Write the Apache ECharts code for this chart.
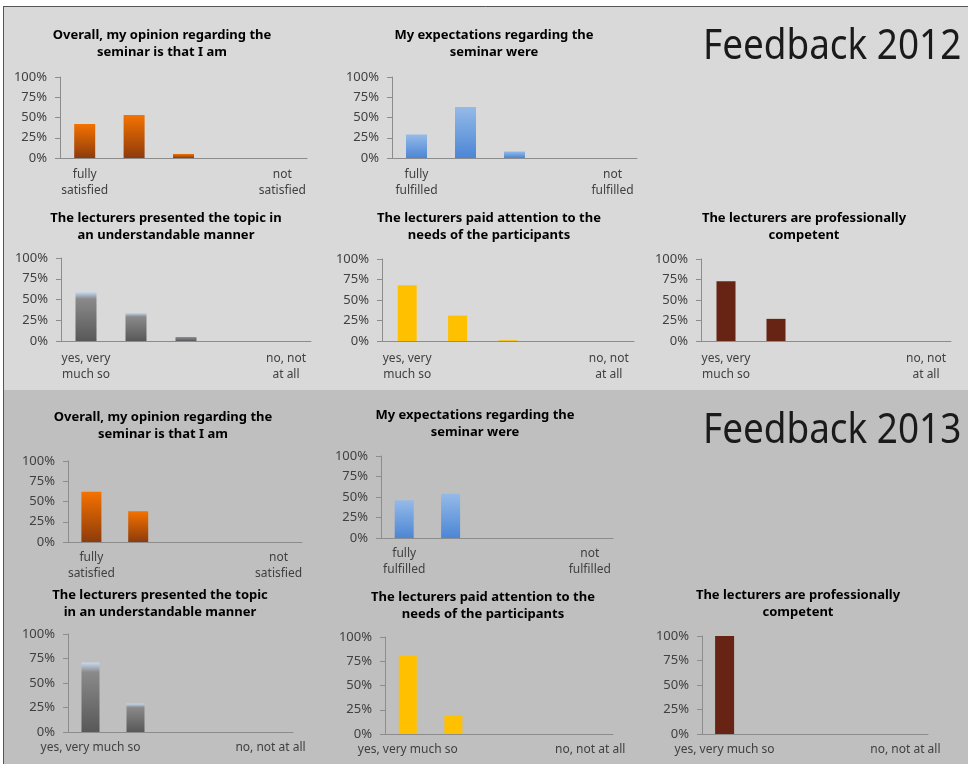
<!DOCTYPE html>
<html><head><meta charset="utf-8">
<script src="https://cdn.jsdelivr.net/npm/echarts/dist/echarts.min.js"></script>
<style>html,body{margin:0;padding:0;background:#fff}#c{width:968px;height:764px}</style>
</head><body><div id="c"></div>
<script>
// ---- data ----
const catsSatisfied = ["fully\nsatisfied", "", "", "", "not\nsatisfied"];
const catsFulfilled = ["fully\nfulfilled", "", "", "", "not\nfulfilled"];
const catsYesNo2 = ["yes, very\nmuch so", "", "", "", "no, not\nat all"];
const catsYesNo1 = ["yes, very much so", "", "", "", "no, not at all"];
const yTickStep = 25;

const overall2012 = [42, 53, 5, 0, 0];
const expect2012 = [29, 63, 8, 0, 0];
const presented2012 = [59, 34, 5, 0, 0];
const attention2012 = [68, 31, 1, 0, 0];
const competent2012 = [73, 27, 0, 0, 0];

const overall2013 = [62, 38, 0, 0, 0];
const expect2013 = [46, 54, 0, 0, 0];
const presented2013 = [71, 29, 0, 0, 0];
const attention2013 = [81, 19, 0, 0, 0];
const competent2013 = [100, 0, 0, 0, 0];

const tOverall = "Overall, my opinion regarding the\nseminar is that I am";
const tExpect = "My expectations regarding the\nseminar were";
const tPresented2012 = "The lecturers presented the topic in\nan understandable manner";
const tPresented2013 = "The lecturers presented the topic\nin an understandable manner";
const tAttention = "The lecturers paid attention to the\nneeds of the participants";
const tCompetent = "The lecturers are professionally\ncompetent";
const headline2012 = "Feedback 2012";
const headline2013 = "Feedback 2013";

// ---- styles ----
const grad = (a, b, c) => ({type: 'linear', x: 0, y: 0, x2: 0, y2: 1,
  colorStops: c ? [{offset: 0, color: a}, {offset: 0.14, color: b}, {offset: 1, color: c}]
                : [{offset: 0, color: a}, {offset: 1, color: b}]});
const cOrange = grad('#f47200', '#8e3b0c');
const cBlue = grad('#95bae8', '#4c86d5');
const cGray = grad('#c9daf0', '#8a8a8a', '#585858');
const cYellow = '#ffc000';
const cBrown = '#672314';

const panels = [
  {title: tOverall, cats: catsSatisfied, vals: overall2012, color: cOrange, g: [60, 77, 247, 81], tx: 162, ty: 35, bw: 21, lm: 9},
  {title: tExpect, cats: catsFulfilled, vals: expect2012, color: cBlue, g: [392, 77, 245, 81], tx: 494, ty: 35, bw: 21, lm: 9},
  {title: tPresented2012, cats: catsYesNo2, vals: presented2012, color: cGray, g: [61, 258, 250, 83], tx: 166, ty: 218, bw: 21, lm: 10},
  {title: tAttention, cats: catsYesNo2, vals: attention2012, color: cYellow, g: [382, 259, 252, 82], tx: 489, ty: 218, bw: 19, lm: 10},
  {title: tCompetent, cats: catsYesNo2, vals: competent2012, color: cBrown, g: [701, 259, 250, 82], tx: 804, ty: 218, bw: 19, lm: 10},
  {title: tOverall, cats: catsSatisfied, vals: overall2013, color: cOrange, g: [68, 461, 234, 81], tx: 163, ty: 417, bw: 20, lm: 8},
  {title: tExpect, cats: catsFulfilled, vals: expect2013, color: cBlue, g: [381, 456, 232, 82], tx: 475, ty: 415, bw: 19, lm: 8},
  {title: tPresented2013, cats: catsYesNo1, vals: presented2013, color: cGray, g: [68, 634, 225, 98], tx: 160, ty: 595, bw: 18, lm: 8},
  {title: tAttention, cats: catsYesNo1, vals: attention2013, color: cYellow, g: [385, 637, 228, 97], tx: 483, ty: 597, bw: 18, lm: 8},
  {title: tCompetent, cats: catsYesNo1, vals: competent2013, color: cBrown, g: [702, 636, 226, 98], tx: 798, ty: 595, bw: 19, lm: 8}
];

const FONT = 'Noto Sans';
const axisGray = '#8c8c8c';
const labelColor = '#404040';

const headline = (txt, x, y) => ({type: 'text', x: x, y: y, scaleX: 0.9, z: 10,
  style: {text: txt, x: 0, y: 0, fontFamily: FONT, fontSize: 41, fill: '#1a1a1a', verticalAlign: 'top', align: 'left'}});

const option = {
  animation: false,
  backgroundColor: '#ffffff',
  graphic: [
    {type: 'rect', z: -10, shape: {x: 3, y: 6, width: 965, height: 384}, style: {fill: '#d9d9d9'}},
    {type: 'rect', z: -10, shape: {x: 3, y: 390, width: 965, height: 374}, style: {fill: '#bfbfbf'}},
    {type: 'line', z: -9, shape: {x1: 3, y1: 6.5, x2: 968, y2: 6.5}, style: {stroke: '#555555', lineWidth: 1}},
    {type: 'line', z: -9, shape: {x1: 3.5, y1: 6, x2: 3.5, y2: 764}, style: {stroke: '#555555', lineWidth: 1}},
    headline(headline2012, 703, 27),
    headline(headline2013, 703, 411)
  ],
  title: [],
  grid: [], xAxis: [], yAxis: [], series: []
};

panels.forEach((p, i) => {
  option.title.push({text: p.title, left: p.tx, top: p.ty - 8.5, textAlign: 'center', padding: 0,
    textStyle: {fontFamily: FONT, fontSize: 13, fontWeight: 'bold', lineHeight: 17, color: '#000'}});
  option.grid.push({left: p.g[0], top: p.g[1], width: p.g[2], height: p.g[3], containLabel: false});
  option.xAxis.push({type: 'category', gridIndex: i, data: p.cats,
    axisLine: {lineStyle: {color: axisGray}}, axisTick: {length: 5, lineStyle: {color: axisGray}},
    axisLabel: {interval: 0, fontFamily: FONT, fontSize: 12, lineHeight: 16, color: labelColor, margin: p.lm}});
  option.yAxis.push({type: 'value', gridIndex: i, min: 0, max: 100, interval: yTickStep,
    splitLine: {show: false}, axisLine: {show: true, lineStyle: {color: axisGray}},
    axisTick: {show: true, length: 5, lineStyle: {color: axisGray}},
    axisLabel: {formatter: '{value}%', fontFamily: FONT, fontSize: 13, color: labelColor, margin: 13}});
  option.series.push({type: 'bar', xAxisIndex: i, yAxisIndex: i, data: p.vals, barWidth: p.bw,
    itemStyle: {color: p.color}});
});

const chart = echarts.init(document.getElementById('c'), null, {renderer: 'canvas'});
chart.setOption(option);
</script></body></html>
